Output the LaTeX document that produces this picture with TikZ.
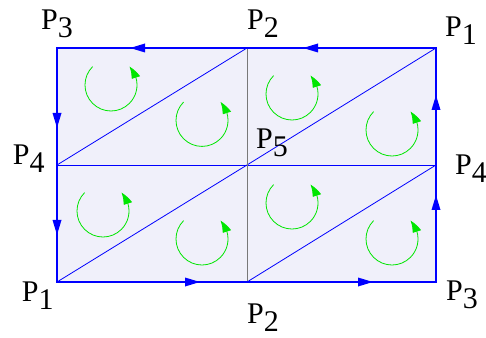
\documentclass[tikz,border=0pt]{standalone}
\usepackage{fontspec}
\setmainfont{Liberation Serif}
\usetikzlibrary{arrows.meta,bending}
\definecolor{facefill}{RGB}{240,240,250}
\definecolor{edgeblue}{RGB}{0,0,255}
\definecolor{arcgreen}{RGB}{0,230,0}
\definecolor{midgray}{RGB}{120,120,120}
\newcommand{\plab}[2]{#1\raisebox{-8pt}{#2}}
\tikzset{
  outeredge/.style={draw=edgeblue, line width=1.1pt},
  inneredge/.style={draw=edgeblue, line width=0.8pt},
  grayedge/.style={draw=midgray, line width=0.8pt},
  edgearrow/.style={draw=edgeblue, line width=1.7pt, -{Triangle[length=15pt,width=8.5pt]}},
  turn/.style={draw=arcgreen, line width=0.8pt, -{Triangle[length=13pt,width=8.5pt,bend]}},
  lbl/.style={anchor=base west, inner sep=0pt, font=\rmfamily\fontsize{30}{36}\selectfont},
}
\begin{document}
\begin{tikzpicture}[x=1pt,y=1pt]
\useasboundingbox (0,0) rectangle (486,337);
% corners
\coordinate (A) at (57,289);
\coordinate (B) at (247,289);
\coordinate (C) at (436,289);
\coordinate (D) at (57,172);
\coordinate (E) at (247,172);
\coordinate (F) at (436,172);
\coordinate (G) at (57,55);
\coordinate (H) at (247,55);
\coordinate (I) at (436,55);
% face
\fill[facefill] (A) rectangle (I);
% inner lines
\draw[inneredge] (D) -- (B);
\draw[inneredge] (E) -- (C);
\draw[inneredge] (G) -- (E);
\draw[inneredge] (H) -- (F);
\draw[inneredge] (D) -- (F);
\draw[grayedge] (B) -- (H);
% outer edges
\draw[outeredge] (A) -- (C) -- (I) -- (G) -- cycle;
% edge arrows
\coordinate (ta1) at (220,289); \coordinate (ta2) at (130,289);
\coordinate (tb1) at (391,289); \coordinate (tb2) at (303,289);
\coordinate (la1) at (57,257);  \coordinate (la2) at (57,209);
\coordinate (lb1) at (57,150);  \coordinate (lb2) at (57,102);
\coordinate (ra1) at (436,195); \coordinate (ra2) at (436,242);
\coordinate (rb1) at (436,95);  \coordinate (rb2) at (436,142);
\coordinate (ba1) at (129,55);  \coordinate (ba2) at (200,55);
\coordinate (bb1) at (301,55);  \coordinate (bb2) at (373,55);
\draw[edgearrow] (ta1) -- (ta2);
\draw[edgearrow] (tb1) -- (tb2);
\draw[edgearrow] (la1) -- (la2);
\draw[edgearrow] (lb1) -- (lb2);
\draw[edgearrow] (ra1) -- (ra2);
\draw[edgearrow] (rb1) -- (rb2);
\draw[edgearrow] (ba1) -- (ba2);
\draw[edgearrow] (bb1) -- (bb2);
% orientation arcs
\foreach \cx/\cy in {111/252, 202/216.6, 292/243, 392/207, 103/126, 202/98, 292/134, 392/98}{
  \draw[turn] (\cx,\cy) ++(135:26) arc[start angle=135, end angle=405, radius=26];
}
% labels
\node[lbl] (p3t) at (41,307) {\plab{P}{3}};
\node[lbl] (p2t) at (247,307) {\plab{P}{2}};
\node[lbl] (p1t) at (445,300.3) {\plab{P}{1}};
\node[lbl] (p4l) at (12.7,172) {\plab{P}{4}};
\node[lbl] (p5) at (256,188.7) {\plab{P}{5}};
\node[lbl] (p4r) at (455,162) {\plab{P}{4}};
\node[lbl] (p1b) at (21.7,35.3) {\plab{P}{1}};
\node[lbl] (p2b) at (247,14) {\plab{P}{2}};
\node[lbl] (p3b) at (446,37) {\plab{P}{3}};
\end{tikzpicture}
\end{document}
